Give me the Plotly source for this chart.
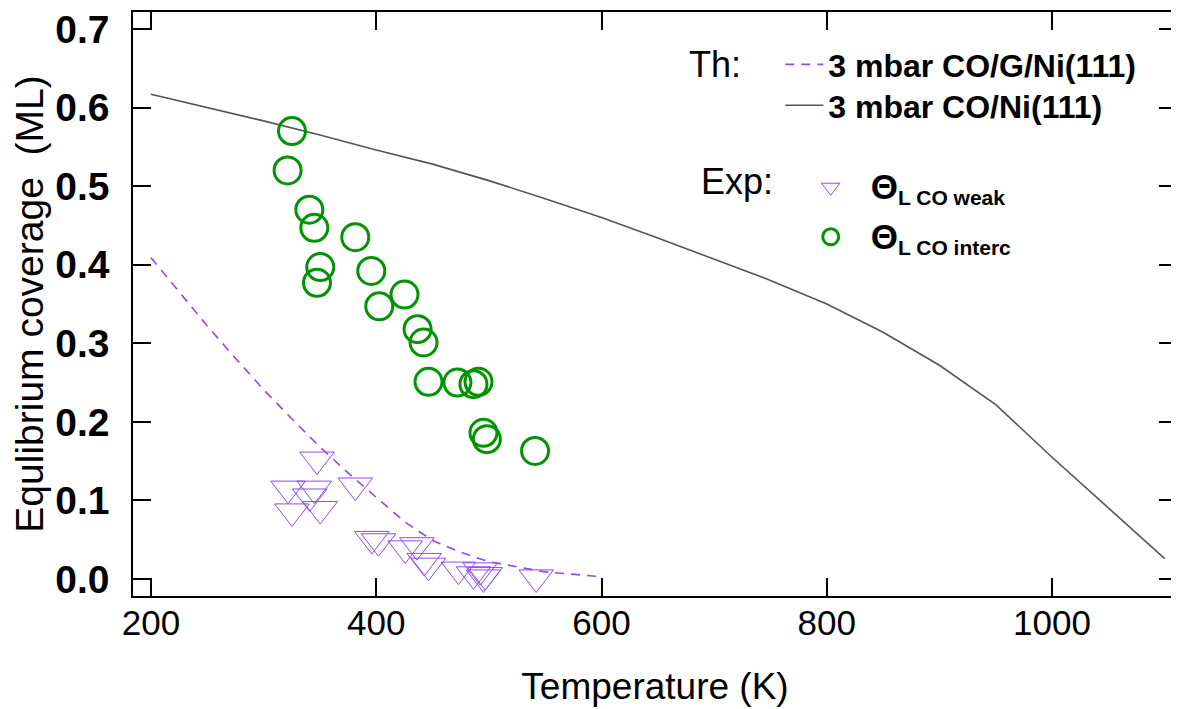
import plotly.graph_objects as go

# ---- theory curves ----
t_co_g_ni = [200, 225, 250, 275, 300, 325, 350, 375, 400, 425, 450, 475, 500, 550, 600]
cov_co_g_ni = [0.409, 0.365, 0.322, 0.281, 0.241, 0.204, 0.168, 0.135, 0.104, 0.073,
               0.049, 0.034, 0.022, 0.009, 0.003]

t_co_ni = [200, 250, 300, 350, 400, 450, 500, 550, 600, 650, 700, 750, 800, 850, 900,
           950, 1000, 1050, 1100]
cov_co_ni = [0.617, 0.600, 0.583, 0.565, 0.546, 0.528, 0.507, 0.484, 0.460, 0.434, 0.407,
             0.380, 0.350, 0.314, 0.272, 0.222, 0.155, 0.090, 0.026]

# ---- experiment ----
t_weak = [321.7, 325.2, 340.9, 345.0, 347.4, 350.3, 381.4, 396.1, 402.0, 425.7, 436.1,
          442.6, 446.4, 473.0, 486.3, 492.3, 496.7, 495.2, 542.0]
cov_weak = [0.115, 0.086, 0.105, 0.115, 0.152, 0.089, 0.119, 0.051, 0.048, 0.039, 0.043,
            0.023, 0.017, 0.012, 0.006, 0.011, 0.005, 0.002, 0.002]

t_interc = [321.3, 325.2, 340.6, 345.0, 347.4, 350.3, 381.4, 395.6, 402.7, 425.1, 436.7,
            442.0, 446.4, 472.1, 486.3, 490.8, 495.2, 498.2, 541.0]
cov_interc = [0.520, 0.570, 0.470, 0.447, 0.377, 0.397, 0.435, 0.392, 0.347, 0.362, 0.318,
              0.301, 0.251, 0.250, 0.248, 0.251, 0.186, 0.178, 0.163]

x_ticks = [200, 400, 600, 800, 1000]
y_ticks = [0.0, 0.1, 0.2, 0.3, 0.4, 0.5, 0.6, 0.7]

PURPLE = "#9248F2"
GREEN = "#009400"
GRAY = "#555555"
FONT = "Liberation Sans, Arial, sans-serif"

# the page body has an 8px margin: figure occupies page pixels 8..1179 / 8..709
OFF = 8
L, R, T, B = 133, 1179, 12, 596          # plot area in page pixels

THETA = "<span style='font-size:35px'>Θ</span>"

fig = go.Figure()
fig.add_trace(go.Scatter(x=t_co_g_ni, y=cov_co_g_ni, mode="lines",
                         name="3 mbar CO/G/Ni(111)", legend="legend",
                         line=dict(color=PURPLE, width=1.6, dash="9px,7px")))
fig.add_trace(go.Scatter(x=t_co_ni, y=cov_co_ni, mode="lines",
                         name="3 mbar CO/Ni(111)", legend="legend2",
                         line=dict(color=GRAY, width=1.6)))
fig.add_trace(go.Scatter(x=t_weak, y=cov_weak, mode="markers",
                         name=THETA + "<sub>L CO weak</sub>", legend="legend3",
                         marker=dict(symbol="triangle-down-open", size=30, color=PURPLE,
                                     line=dict(width=1, color=PURPLE))))
fig.add_trace(go.Scatter(x=t_interc, y=cov_interc, mode="markers",
                         name=THETA + "<sub>L CO interc</sub>", legend="legend4",
                         marker=dict(symbol="circle-open", size=27, color=GREEN,
                                     line=dict(width=3, color=GREEN))))

leg_common = dict(xanchor="left", yanchor="middle", bgcolor="rgba(0,0,0,0)",
                  borderwidth=0, itemsizing="trace")

fig.update_layout(
    width=1179 - OFF, height=709 - OFF,
    margin=dict(l=L - OFF, r=0, t=T - OFF, b=709 - B, pad=0),
    paper_bgcolor="white", plot_bgcolor="white",
    font=dict(family=FONT, color="black"),
    showlegend=True,
    legend=dict(x=0.62, y=0.91, font=dict(family=FONT, size=32, weight="bold"),
                itemwidth=38, **leg_common),
    legend2=dict(x=0.62, y=0.84, font=dict(family=FONT, size=32, weight="bold"),
                 itemwidth=38, **leg_common),
    legend3=dict(x=0.630, y=0.70, font=dict(family=FONT, size=30, weight="bold"),
                 itemwidth=70, **leg_common),
    legend4=dict(x=0.630, y=0.615, font=dict(family=FONT, size=30, weight="bold"),
                 itemwidth=70, **leg_common),
    xaxis=dict(range=[184.05, 1110.94], tickvals=x_ticks, ticktext=[str(v) for v in x_ticks],
               showgrid=False, zeroline=False, showline=True, linecolor="black", linewidth=1.5,
               mirror="ticks", ticks="inside", ticklen=18, tickwidth=1.5, tickcolor="black",
               tickfont=dict(family=FONT, size=35, color="black"),
               ticklabelstandoff=-5, ticklabeloverflow="allow",
               title=dict(text="Temperature (K)", font=dict(family=FONT, size=37),
                          standoff=32)),
    yaxis=dict(range=[-0.02164, 0.7216], tickvals=y_ticks,
               ticktext=["%.1f" % v for v in y_ticks],
               showgrid=False, zeroline=False, showline=True, linecolor="black", linewidth=1.5,
               mirror="ticks", ticks="inside", ticklen=18, tickwidth=1.5, tickcolor="black",
               tickfont=dict(family=FONT, size=39, weight="bold", color="black"),
               ticklabelstandoff=14, ticklabeloverflow="allow",
               title=dict(text="Equlibrium coverage\u00a0 (ML)",
                          font=dict(family=FONT, size=39), standoff=6)),
    annotations=[
        dict(text="Th:", x=688, y=65, xref="paper", yref="paper", showarrow=False,
             font=dict(family=FONT, size=36, color="black"), xanchor="left", yanchor="middle"),
        dict(text="Exp:", x=700, y=181, xref="paper", yref="paper", showarrow=False,
             font=dict(family=FONT, size=36, color="black"), xanchor="left", yanchor="middle"),
    ],
)

# convert annotation page-pixel positions to paper coordinates
for a in fig.layout.annotations:
    a.x = (a.x - L) / (R - L)
    a.y = (B - a.y) / (B - T)

fig.write_html("out.html")
